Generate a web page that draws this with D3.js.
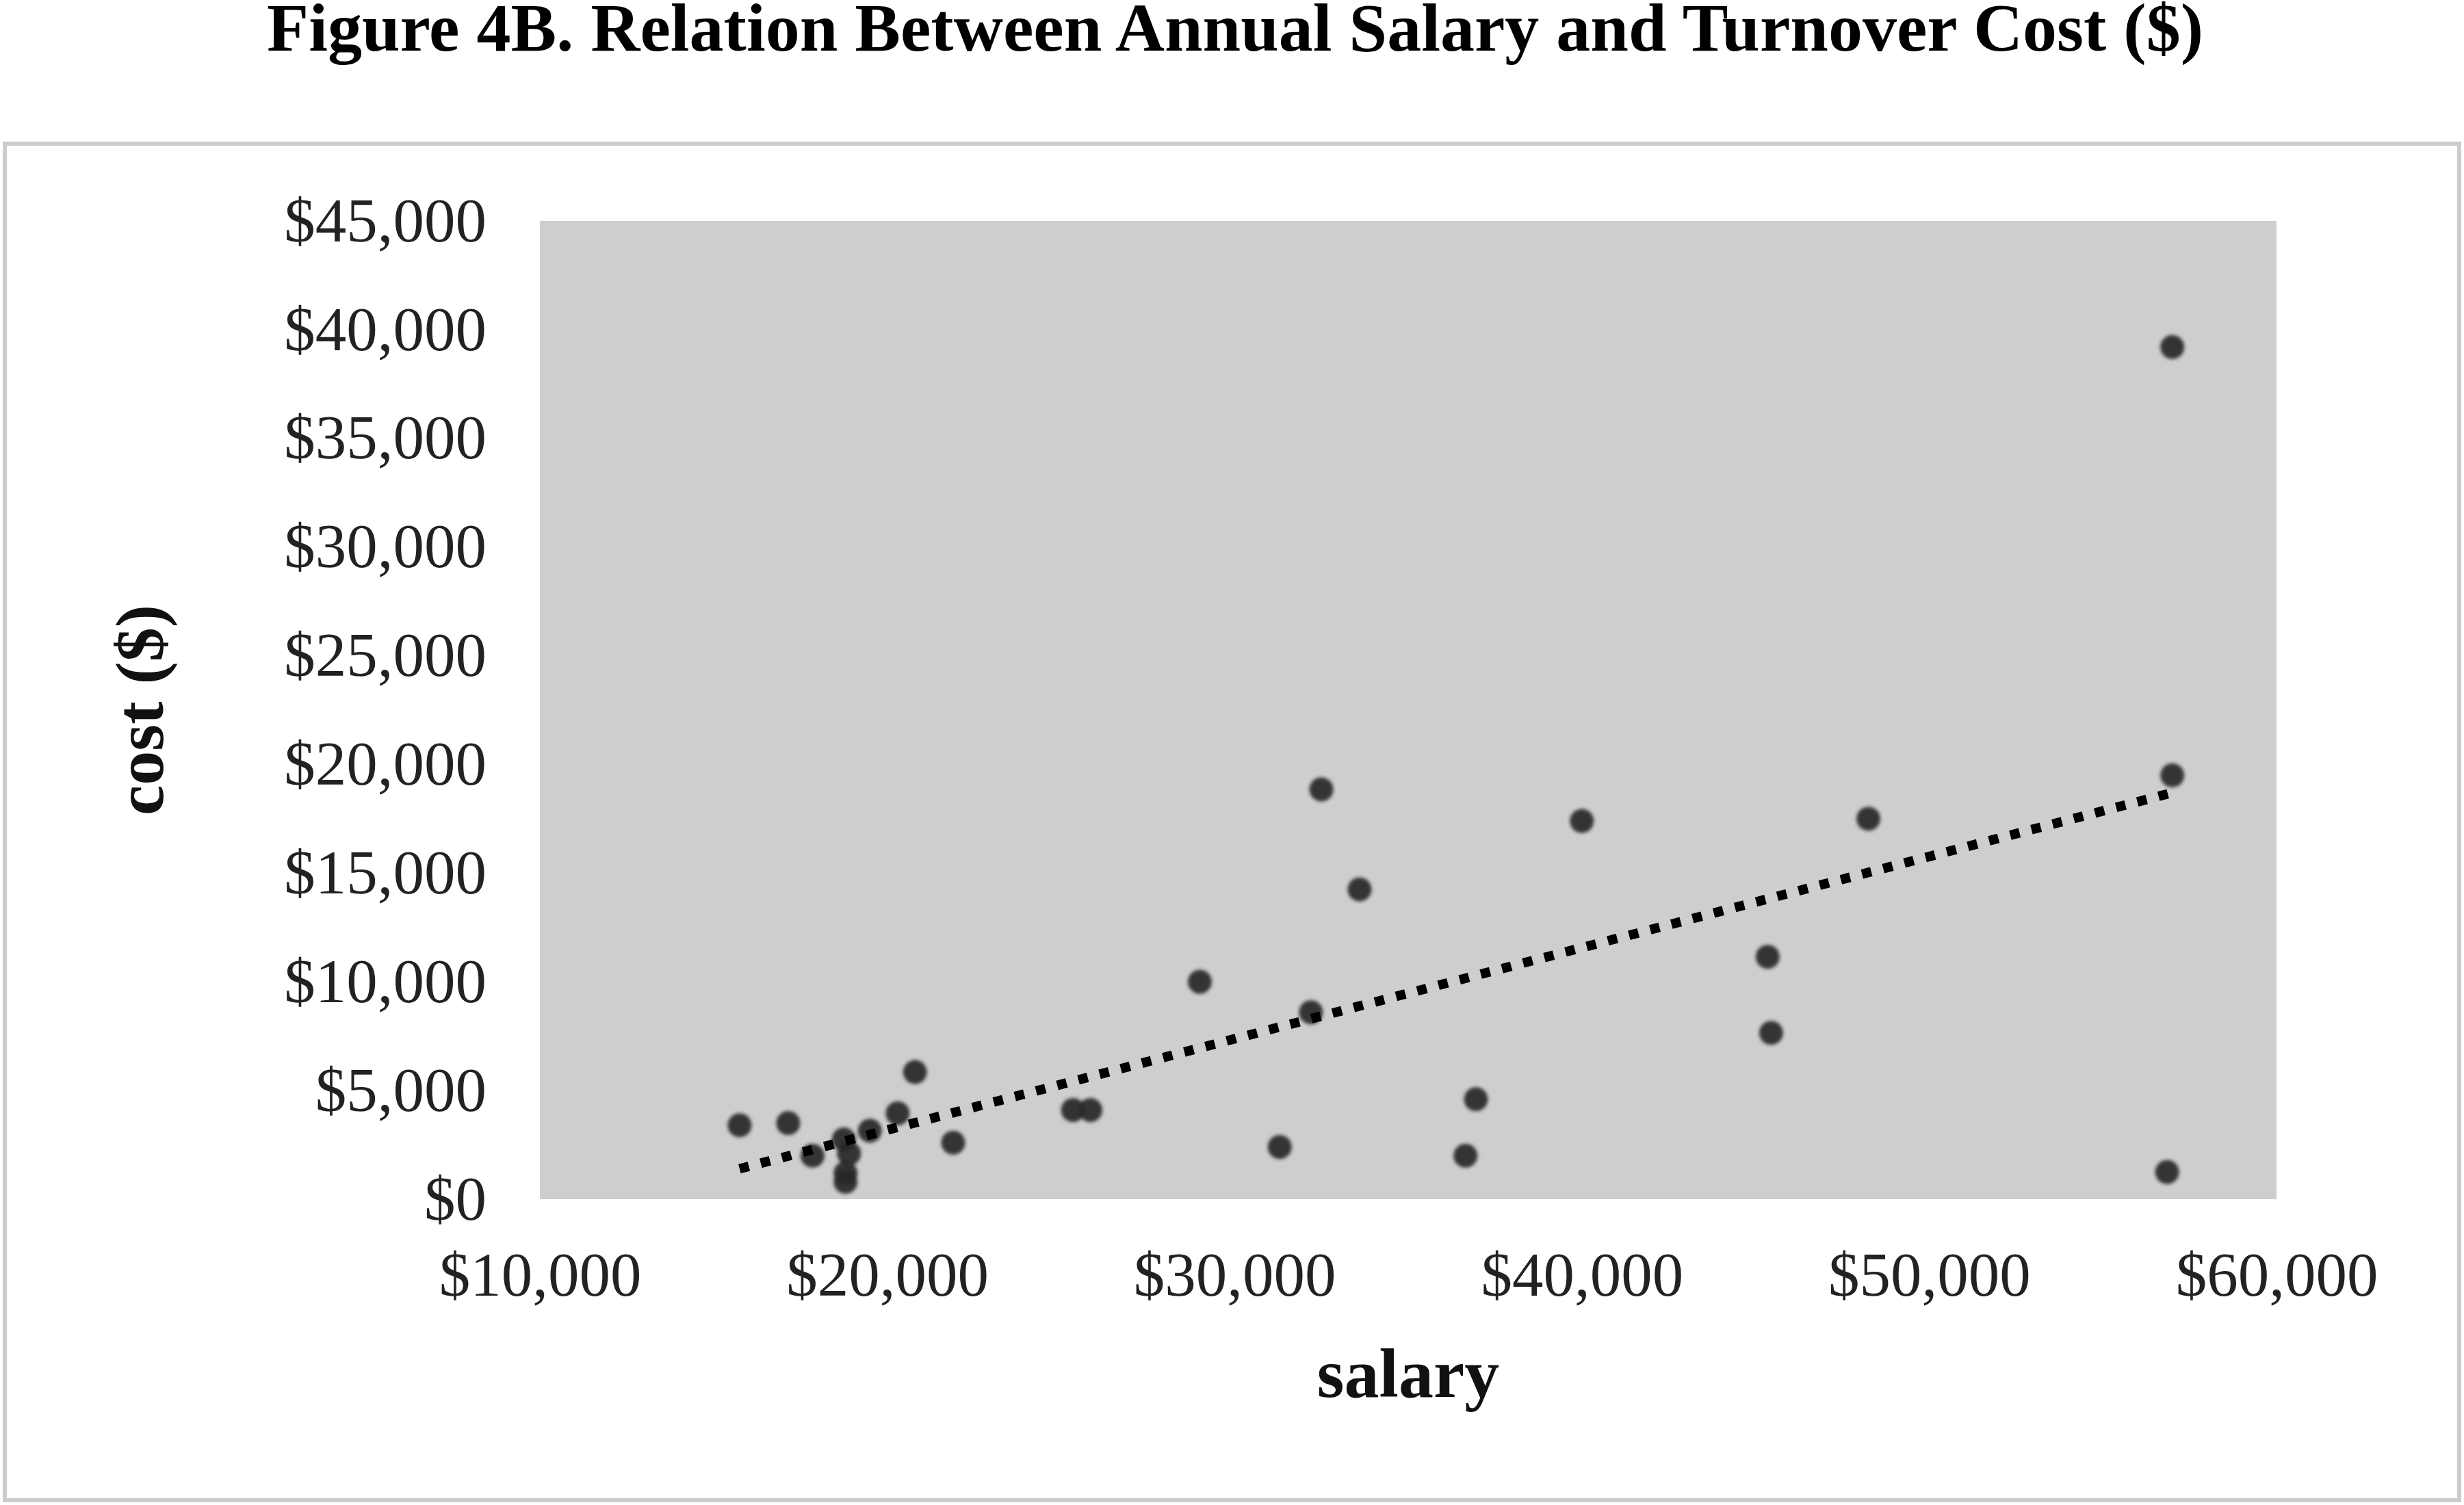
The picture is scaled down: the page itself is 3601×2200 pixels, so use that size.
<!DOCTYPE html>
<html>
<head>
<meta charset="utf-8">
<script src="https://cdn.jsdelivr.net/npm/d3@7"></script>
<style>
  html, body { margin: 0; padding: 0; background: #ffffff; }
  svg { display: block; }
</style>
</head>
<body>
<script>
// ---- data ----
const salary = [15750, 17150, 17850, 18750, 18900, 18800, 18800, 19500, 20300, 20800, 21900,
                25350, 25850, 29000, 31300, 32200, 32500, 33600, 36650, 36950, 40000,
                45350, 45450, 48250, 57000, 57000, 56850];
const cost   = [3400, 3500, 2000, 2750, 2100, 1200, 800, 3150, 3950, 5850, 2600,
                4100, 4100, 10000, 2400, 8600, 18850, 14250, 2000, 4600, 17400,
                11150, 7650, 17500, 39200, 19500, 1250];
const trendSalary = [15750, 57000];
const trendCost   = [1400, 18700];
const xTicks = [10000, 20000, 30000, 40000, 50000, 60000];
const yTicks = [0, 5000, 10000, 15000, 20000, 25000, 30000, 35000, 40000, 45000];
const titleText = "Figure 4B. Relation Between Annual Salary and Turnover Cost ($)";
const xLabel = "salary";
const yLabel = "cost ($)";

const W = 3601, H = 2200;
const plot = { left: 789, right: 3327, top: 323, bottom: 1753 };
const serif = "'Liberation Serif', 'Times New Roman', serif";

const svg = d3.select("body").append("svg").attr("width", W).attr("height", H);

const defs = svg.append("defs");
const blur = defs.append("filter").attr("id", "soft")
  .attr("x", "-50%").attr("y", "-50%").attr("width", "200%").attr("height", "200%");
blur.append("feGaussianBlur").attr("stdDeviation", 2.5);

// outer frame
svg.append("rect")
  .attr("x", 7).attr("y", 210).attr("width", W - 14).attr("height", H - 217)
  .attr("fill", "none").attr("stroke", "#cccccc").attr("stroke-width", 6);

// title
svg.append("text")
  .attr("x", 1805).attr("y", 74)
  .attr("text-anchor", "middle")
  .attr("font-family", serif).attr("font-weight", "bold").attr("font-size", 100)
  .attr("fill", "#000")
  .text(titleText);

const x = d3.scaleLinear().domain([10000, 60000]).range([plot.left, plot.right]);
const y = d3.scaleLinear().domain([0, 45000]).range([plot.bottom, plot.top]);

// plot area
svg.append("rect")
  .attr("x", plot.left).attr("y", plot.top)
  .attr("width", plot.right - plot.left).attr("height", plot.bottom - plot.top)
  .attr("fill", "#cecece");

const fmt = d => "$" + d3.format(",")(d);

// y axis
const gy = svg.append("g")
  .attr("transform", `translate(${plot.left},0)`)
  .call(d3.axisLeft(y).tickValues(yTicks).tickFormat(fmt).tickSize(0).tickPadding(78));
gy.select(".domain").remove();
gy.selectAll("text")
  .attr("font-family", serif).attr("font-size", 91).attr("fill", "#222");

// x axis
const gx = svg.append("g")
  .attr("transform", `translate(0,${plot.bottom})`)
  .call(d3.axisBottom(x).tickValues(xTicks).tickFormat(fmt).tickSize(0).tickPadding(76));
gx.select(".domain").remove();
gx.selectAll("text")
  .attr("font-family", serif).attr("font-size", 91).attr("fill", "#222");

// axis titles
svg.append("text")
  .attr("x", (plot.left + plot.right) / 2).attr("y", 2042)
  .attr("text-anchor", "middle")
  .attr("font-family", serif).attr("font-weight", "bold").attr("font-size", 102)
  .attr("fill", "#111")
  .text(xLabel);

svg.append("text")
  .attr("transform", `translate(238,${(plot.top + plot.bottom) / 2}) rotate(-90)`)
  .attr("text-anchor", "middle")
  .attr("font-family", serif).attr("font-weight", "bold").attr("font-size", 100)
  .attr("fill", "#111")
  .text(yLabel);

// points
const pts = salary.map((s, i) => ({ s, c: cost[i] }));
svg.append("g").attr("filter", "url(#soft)")
  .selectAll("circle").data(pts).join("circle")
  .attr("cx", d => x(d.s)).attr("cy", d => y(d.c))
  .attr("r", 17.5)
  .attr("fill", "#262626").attr("fill-opacity", 0.9);

// trend line (dotted)
const trend = trendSalary.map((s, i) => [x(s), y(trendCost[i])]);
svg.append("path")
  .attr("d", d3.line()(trend))
  .attr("fill", "none").attr("stroke", "#000")
  .attr("stroke-width", 14).attr("stroke-dasharray", "14 18");
</script>
</body>
</html>
